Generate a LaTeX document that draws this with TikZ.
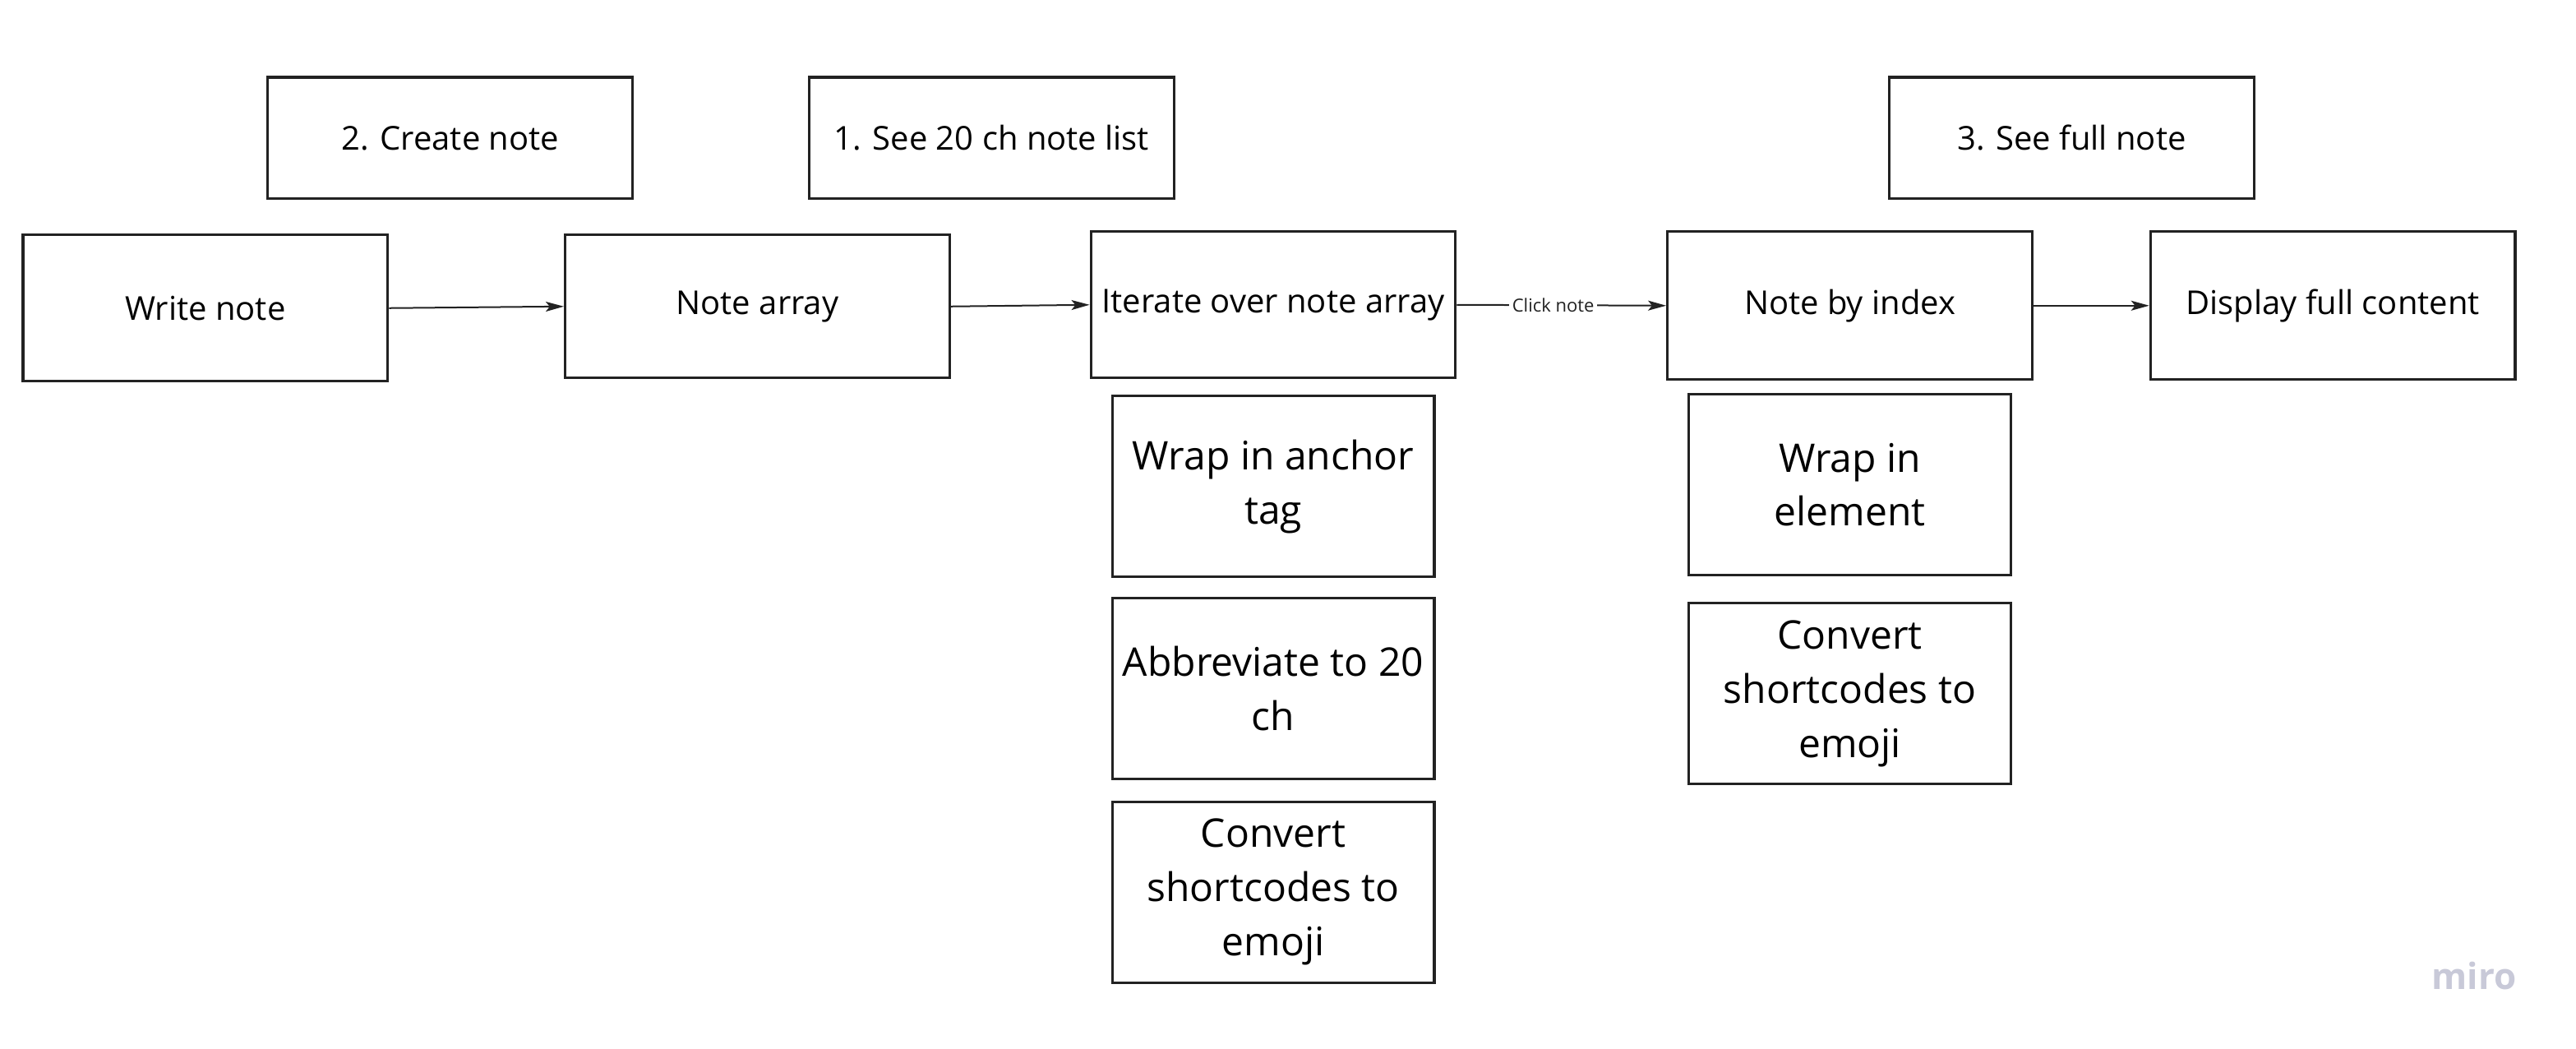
\documentclass[tikz,border=0pt]{standalone}
\usepackage{fontspec}
\setmainfont{Open Sans}
\usetikzlibrary{arrows.meta}
\definecolor{edgegray}{RGB}{34,34,34}
\definecolor{logogray}{RGB}{200,201,216}

\tikzset{
  mainbox/.style={draw=edgegray,line width=0.8pt,inner sep=0pt,align=center,
    minimum width=111pt,minimum height=44.5pt,font=\fontsize{10}{13.5}\selectfont},
  headbox/.style={mainbox,minimum height=37pt},
  subbox/.style={mainbox,minimum width=98pt,minimum height=55pt,
    font=\fontsize{12}{16.5}\selectfont},
  flow/.style={-{Stealth[length=5.5pt,width=3pt,inset=1.2pt]},line width=0.5pt,edgegray},
}

\begin{document}
\begin{tikzpicture}[x=0.5pt,y=-0.5pt]
  \useasboundingbox (0,0) rectangle (1568,638);
  % main row
  \node[mainbox] (write)   at (125,187.5) {Write note};
  \node[mainbox,minimum width=117pt,minimum height=43.5pt] (array) at (461,186.5) {Note array};
  \node[mainbox] (iterate) at (775,185.5) {Iterate over note array};
  \node[mainbox,minimum height=45pt] (byindex) at (1126,186) {Note by index};
  \node[mainbox,minimum height=45pt] (display) at (1420,186) {Display full content};
  % step headings
  \node[headbox] (create)  at (274,84)    {2. Create note};
  \node[headbox] (seelist) at (603.5,84)  {1. See 20 ch note list};
  \node[headbox] (seefull) at (1261,84)   {3. See full note};
  % details under the list
  \node[subbox] (anchor) at (775,296) {Wrap in anchor\\tag};
  \node[subbox] (abbrev) at (775,419) {Abbreviate to 20\\ch};
  \node[subbox] (convl)  at (775,543) {Convert\\shortcodes to\\emoji};
  % details under the full note
  \node[subbox] (wrapel) at (1126,295) {Wrap in\\element};
  \node[subbox] (convr)  at (1126,422) {Convert\\shortcodes to\\emoji};
  % connectors
  \draw[flow] (write.east) -- (array.west);
  \draw[flow] (array.east) -- (iterate.west);
  \draw[flow] (iterate.east) -- node[pos=0.46,fill=white,inner sep=1pt,font=\fontsize{5.5}{6}\selectfont] (click) {Click note} (byindex.west);
  \draw[flow] (byindex.east) -- (display.west);
  % watermark
  \node[text=logogray,font=\fontsize{11}{12}\selectfont\bfseries] (logo) at (1506,594) {miro};
\end{tikzpicture}
\end{document}
